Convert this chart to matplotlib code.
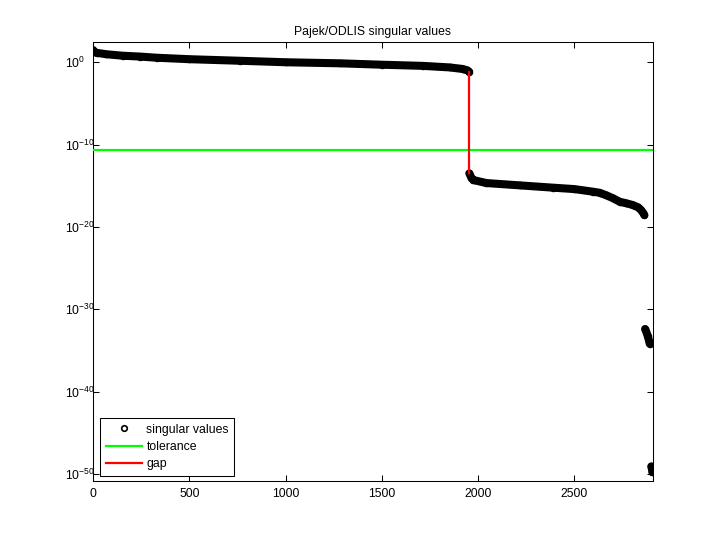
import numpy as np
import matplotlib
matplotlib.use("Agg")
import matplotlib.pyplot as plt
from matplotlib.ticker import NullLocator
from matplotlib.lines import Line2D

plt.rcParams['font.family'] = ['Liberation Sans', 'DejaVu Sans']
plt.rcParams['font.size'] = 8.8
plt.rcParams['axes.unicode_minus'] = False

# matrix size and numerical rank
n_values = 2909
rank = 1954

# singular values as log10 exponents
upper_idx = [1, 5, 20, 70, 156, 244, 330, 500, 763, 1000, 1283, 1500, 1713, 1853, 1921, 1945, 1954]
upper_exp = [1.49, 1.30, 1.15, 0.98, 0.80, 0.70, 0.56, 0.38, 0.19, 0.01, -0.12, -0.29, -0.43, -0.62, -0.81, -0.98, -1.14]

lower_idx = [1955, 1965, 1975, 2044, 2217, 2390, 2500, 2598, 2632, 2667, 2700, 2736, 2771, 2804, 2830, 2845, 2858, 2864]
lower_exp = [-13.49, -14.0, -14.3, -14.67, -14.95, -15.23, -15.4, -15.72, -15.85, -16.16, -16.5, -16.94, -17.13, -17.34, -17.6, -17.9, -18.3, -18.55]

cluster_idx = [2868, 2875, 2882, 2888, 2892]
cluster_exp = [-32.4, -32.8, -33.3, -33.8, -34.2]

last_idx = [2900, 2903, 2906]
last_exp = [-49.1, -49.4, -49.8]

tol_exp = -10.66
ylim_exp = (-50.87, 2.47)

yticks_exp = [-50, -40, -30, -20, -10, 0]
xticks = [0, 500, 1000, 1500, 2000, 2500]

groups = [(upper_idx, upper_exp), (lower_idx, lower_exp),
          (cluster_idx, cluster_exp), (last_idx, last_exp)]

fig = plt.figure(figsize=(7.2, 5.4), dpi=100)
ax = fig.add_axes([93 / 720, 59 / 540, 560 / 720, 439 / 540])
ax.set_yscale('log')

# dense markers form a thick band in the original
for idx, ex in groups:
    ax.plot(idx, 10.0 ** np.array(ex), '-', color='k', lw=5.8,
            solid_capstyle='round', zorder=2)
all_idx = np.concatenate([g[0] for g in groups])
all_val = 10.0 ** np.concatenate([g[1] for g in groups])
ax.plot(all_idx, all_val, 'o', mfc='none', mec='k', ms=4.4, mew=1.0, zorder=3)

tol = 10.0 ** tol_exp
ax.axhline(tol, color=(0, 1, 0), lw=1.6, zorder=4)

s_hi = 10.0 ** upper_exp[-1]
s_lo = 10.0 ** lower_exp[0]
ax.plot([rank, rank], [s_hi, s_lo], color=(1, 0, 0), lw=1.6, zorder=5)

ax.set_xlim(0, n_values)
ax.set_ylim(10.0 ** ylim_exp[0], 10.0 ** ylim_exp[1])
ax.set_xticks(xticks)
ax.set_yticks([10.0 ** e for e in yticks_exp])
ax.yaxis.set_minor_locator(NullLocator())
ax.tick_params(direction='in', length=4, width=0.75, top=True, right=True)
ax.tick_params(axis='x', pad=5)
ax.tick_params(axis='y', pad=20)
plt.setp(ax.get_yticklabels(), ha='left')
for sp in ax.spines.values():
    sp.set_linewidth(0.75)

ax.set_title('Pajek/ODLIS singular values', fontsize=8.8, pad=5)

handles = [
    Line2D([], [], ls='none', marker='o', mfc='none', mec='k', ms=4, mew=1.2),
    Line2D([], [], color=(0, 1, 0), lw=1.6),
    Line2D([], [], color=(1, 0, 0), lw=1.6),
]
leg = ax.legend(handles, ['singular values', 'tolerance', 'gap'], loc='lower left',
                fancybox=False, edgecolor='k', framealpha=1,
                bbox_to_anchor=(7 / 560, 5 / 439), borderaxespad=0,
                handlelength=3.0, handletextpad=0.35, labelspacing=0.45,
                borderpad=0.45, numpoints=1)
leg.get_frame().set_linewidth(0.75)

fig.savefig('out.png', dpi=100)
